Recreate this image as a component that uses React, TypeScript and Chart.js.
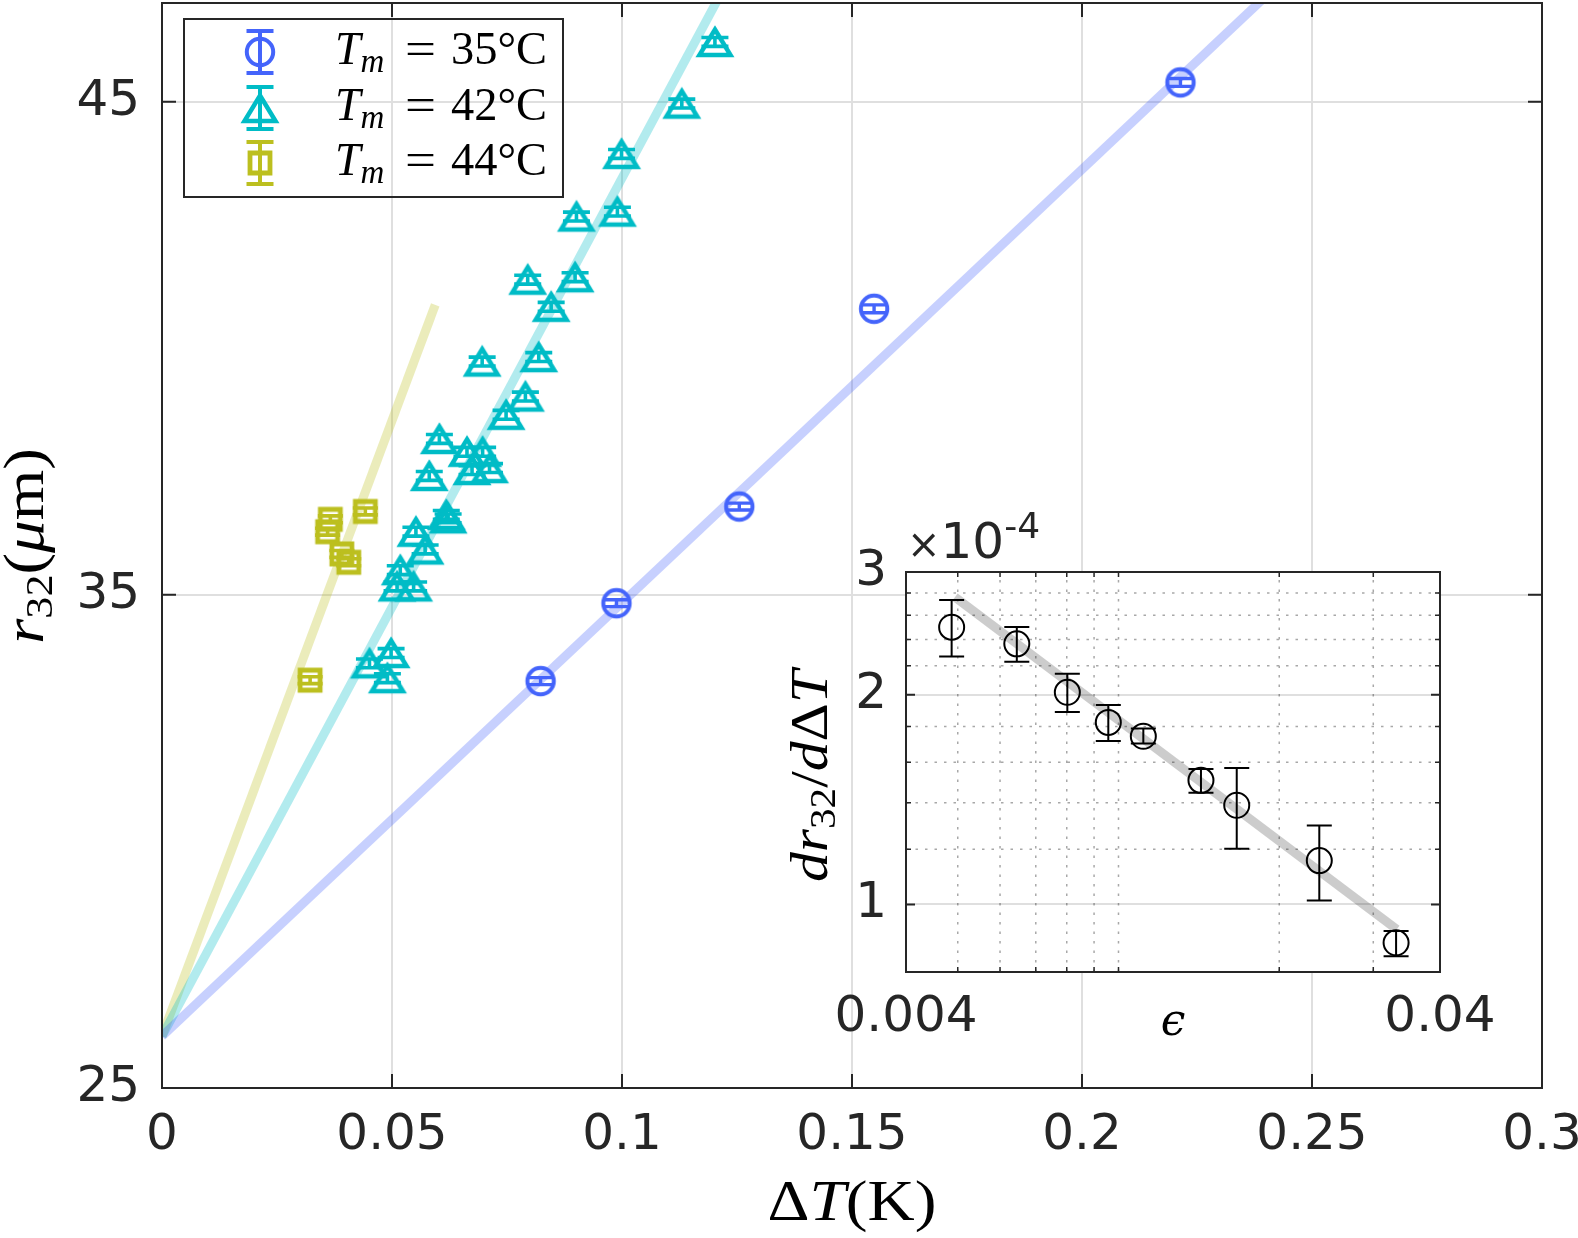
"use client";
import { useEffect, useRef } from "react";
import { Chart, registerables } from "chart.js";

Chart.register(...registerables);

// ---- main panel: r32 vs ΔT ----
const xTickValues = [0, 0.05, 0.1, 0.15, 0.2, 0.25, 0.3];
const xTickLabels = ["0", "0.05", "0.1", "0.15", "0.2", "0.25", "0.3"];
const yTickValues = [25, 35, 45];
const yTickLabels = ["25", "35", "45"];

// T_m = 35°C
const dT35 = [0.0823, 0.0988, 0.1255, 0.1548, 0.2214];
const r35 = [33.25, 34.83, 36.79, 40.8, 45.39];
const err35 = [0.07, 0.07, 0.07, 0.08, 0.08];

// T_m = 42°C
const dT42 = [
  0.1202, 0.113, 0.0999, 0.099, 0.0901, 0.0795, 0.0898, 0.0846, 0.0819, 0.0696,
  0.079, 0.0748, 0.0603, 0.0663, 0.0697, 0.0674, 0.0712, 0.0581, 0.0618, 0.0622,
  0.0552, 0.0572, 0.0518, 0.0511, 0.0547, 0.0451, 0.0498, 0.049,
];
const r42 = [
  46.21, 44.96, 43.94, 42.77, 42.67, 41.39, 41.44, 40.84, 39.82, 39.73,
  39.02, 38.65, 38.16, 37.9, 37.9, 37.53, 37.57, 37.41, 36.62, 36.55,
  36.28, 35.92, 35.5, 35.17, 35.17, 33.61, 33.82, 33.31,
];
const err42 = [
  0.09, 0.09, 0.09, 0.09, 0.09, 0.09, 0.09, 0.09, 0.09, 0.09,
  0.09, 0.09, 0.09, 0.09, 0.09, 0.09, 0.09, 0.09, 0.09, 0.09,
  0.09, 0.09, 0.09, 0.09, 0.09, 0.09, 0.09, 0.09,
];

// T_m = 44°C
const dT44 = [0.0322, 0.036, 0.0366, 0.0391, 0.0406, 0.0442];
const r44 = [33.27, 36.28, 36.53, 35.83, 35.66, 36.69];
const err44 = [0.07, 0.07, 0.07, 0.07, 0.07, 0.07];

// linear fits (end points)
const fit35X = [0, 0.25];
const fit35Y = [26.05, 48.02];
const fit42X = [0, 0.13];
const fit42Y = [26.05, 48.67];
const fit44X = [0, 0.0594];
const fit44Y = [26.05, 40.88];

const legendLabels = ["35°C", "42°C", "44°C"];

// ---- inset: dr32/dΔT vs ε (values in units of 1e-4) ----
const epsTickValues = [0.004, 0.04];
const epsTickLabels = ["0.004", "0.04"];
const epsMinor = [0.005, 0.006, 0.007, 0.008, 0.009, 0.01, 0.02, 0.03];
const slopeTickValues = [1, 2, 3];
const slopeTickLabels = ["1", "2", "3"];
const slopeMinor = [1.2, 1.4, 1.6, 1.8, 2.2, 2.4, 2.6, 2.8];

const epsilon = [0.00487, 0.00645, 0.00802, 0.00957, 0.01113, 0.01427, 0.01665, 0.02377, 0.0331];
const slope = [2.5, 2.366, 2.016, 1.825, 1.743, 1.507, 1.388, 1.156, 0.881];
const slopeLo = [2.27, 2.23, 1.889, 1.717, 1.702, 1.446, 1.202, 1.013, 0.843];
const slopeHi = [2.736, 2.501, 2.144, 1.933, 1.788, 1.565, 1.57, 1.298, 0.916];
const slopeFitX = [0.00494, 0.0332];
const slopeFitY = [2.761, 0.921];

const BLUE = "#4464fb";
const CYAN = "#00bcc6";
const OLIVE = "#bcbf1f";
const AXIS = "#262626";
const GRID = "#dfdfdf";
const TICK_FONT = { family: "DejaVu Sans", size: 50 };
const SERIF = '"Liberation Serif", "DejaVu Serif", serif';

function makeMarker(shape: string, color: string) {
  const c = document.createElement("canvas");
  c.width = 44;
  c.height = 44;
  const g = c.getContext("2d")!;
  g.strokeStyle = color;
  g.lineJoin = "miter";
  g.beginPath();
  if (shape === "circle") {
    g.lineWidth = 4;
    g.arc(22, 22, 13.2, 0, Math.PI * 2);
  } else if (shape === "triangle") {
    g.lineWidth = 4.5;
    g.moveTo(22, 9.5);
    g.lineTo(37.5, 35);
    g.lineTo(6.5, 35);
    g.closePath();
  } else {
    g.lineWidth = 4.8;
    g.rect(12, 12, 20, 20);
  }
  g.stroke();
  return c;
}

type Run = { t: string; font: string; dy?: number };

// draws text made of several font runs; optional stretch to a given width
function drawRuns(
  ctx: CanvasRenderingContext2D,
  runs: Run[],
  x: number,
  y: number,
  align: "left" | "center",
  width?: number,
  rotate = false,
  color = "#000"
) {
  ctx.save();
  ctx.translate(x, y);
  if (rotate) ctx.rotate(-Math.PI / 2);
  let total = 0;
  const ws = runs.map((r) => {
    ctx.font = r.font;
    const w = ctx.measureText(r.t).width;
    total += w;
    return w;
  });
  if (width) ctx.scale(width / total, 1);
  let cx = align === "center" ? -total / 2 : 0;
  ctx.fillStyle = color;
  ctx.textAlign = "left";
  ctx.textBaseline = "alphabetic";
  runs.forEach((r, i) => {
    ctx.font = r.font;
    ctx.fillText(r.t, cx, r.dy || 0);
    cx += ws[i];
  });
  ctx.restore();
}

function drawErrorBars(chart: any, dsIndex: number, lo: number[], hi: number[], color: string, width: number, cap: number) {
  const meta = chart.getDatasetMeta(dsIndex);
  const ys = chart.scales.y;
  const ctx = chart.ctx;
  ctx.save();
  ctx.strokeStyle = color;
  ctx.lineWidth = width;
  meta.data.forEach((pt: any, i: number) => {
    const y1 = ys.getPixelForValue(lo[i]);
    const y2 = ys.getPixelForValue(hi[i]);
    ctx.beginPath();
    ctx.moveTo(pt.x, y1);
    ctx.lineTo(pt.x, y2);
    ctx.moveTo(pt.x - cap, y1);
    ctx.lineTo(pt.x + cap, y1);
    ctx.moveTo(pt.x - cap, y2);
    ctx.lineTo(pt.x + cap, y2);
    ctx.stroke();
  });
  ctx.restore();
}

function drawBox(ctx: CanvasRenderingContext2D, a: any) {
  ctx.save();
  ctx.strokeStyle = AXIS;
  ctx.lineWidth = 2;
  ctx.strokeRect(a.left, a.top, a.right - a.left, a.bottom - a.top);
  ctx.restore();
}

function toPoints(xs: number[], ys: number[]) {
  return xs.map((x, i) => ({ x, y: ys[i] }));
}

export default function App() {
  const mainRef = useRef<HTMLCanvasElement>(null);
  const insetRef = useRef<HTMLCanvasElement>(null);

  useEffect(() => {
    const mainCanvas = mainRef.current;
    const insetCanvas = insetRef.current;
    if (!mainCanvas || !insetCanvas) return;

    const markers = [makeMarker("circle", BLUE), makeMarker("triangle", CYAN), makeMarker("square", OLIVE)];
    const colors = [BLUE, CYAN, OLIVE];

    const mainDecor = {
      id: "mainDecor",
      afterDatasetsDraw(chart: any) {
        drawErrorBars(chart, 0, r35.map((v, i) => v - err35[i]), r35.map((v, i) => v + err35[i]), BLUE, 3.4, 12.5);
        drawErrorBars(chart, 1, r42.map((v, i) => v - err42[i]), r42.map((v, i) => v + err42[i]), CYAN, 3.6, 13.5);
        drawErrorBars(chart, 2, r44.map((v, i) => v - err44[i]), r44.map((v, i) => v + err44[i]), OLIVE, 3.6, 12.5);
      },
      afterDraw(chart: any) {
        const { ctx, chartArea: a, scales } = chart;
        drawBox(ctx, a);

        // inward tick marks
        ctx.save();
        ctx.strokeStyle = AXIS;
        ctx.lineWidth = 2;
        ctx.beginPath();
        xTickValues.forEach((v) => {
          const px = scales.x.getPixelForValue(v);
          if (px <= a.left + 1 || px >= a.right - 1) return;
          ctx.moveTo(px, a.bottom);
          ctx.lineTo(px, a.bottom - 14);
          ctx.moveTo(px, a.top);
          ctx.lineTo(px, a.top + 14);
        });
        yTickValues.forEach((v) => {
          const py = scales.y.getPixelForValue(v);
          if (py >= a.bottom - 1 || py <= a.top + 1) return;
          ctx.moveTo(a.left, py);
          ctx.lineTo(a.left + 14, py);
          ctx.moveTo(a.right, py);
          ctx.lineTo(a.right - 14, py);
        });
        ctx.stroke();
        ctx.restore();

        // legend
        ctx.save();
        ctx.strokeStyle = AXIS;
        ctx.lineWidth = 2;
        ctx.strokeRect(184, 19, 379, 178);
        const rows = [52, 108, 163];
        rows.forEach((cy, i) => {
          const mx = 260;
          ctx.strokeStyle = colors[i];
          ctx.lineWidth = 4;
          ctx.beginPath();
          ctx.moveTo(mx, cy - 21);
          ctx.lineTo(mx, cy + 21);
          ctx.moveTo(mx - 13.5, cy - 21);
          ctx.lineTo(mx + 13.5, cy - 21);
          ctx.moveTo(mx - 13.5, cy + 21);
          ctx.lineTo(mx + 13.5, cy + 21);
          ctx.stroke();
          ctx.drawImage(markers[i], mx - 22, cy - 22);
          const base = cy + 11.5;
          drawRuns(ctx, [
            { t: "T", font: `italic 46px ${SERIF}` },
            { t: "m", font: `italic 33px ${SERIF}`, dy: 8 },
          ], 335, base, "left");
          drawRuns(ctx, [{ t: "=", font: `46px ${SERIF}` }], 405, base, "left", 31);
          drawRuns(ctx, [{ t: legendLabels[i], font: `46px ${SERIF}` }], 451, base, "left", 96);
        });
        ctx.restore();

        // axis titles
        drawRuns(ctx, [
          { t: "Δ", font: `58px ${SERIF}` },
          { t: "T", font: `italic 58px ${SERIF}` },
          { t: "(K)", font: `58px ${SERIF}` },
        ], (a.left + a.right) / 2, 1220, "center", 169);
        drawRuns(ctx, [
          { t: "r", font: `italic 56px ${SERIF}` },
          { t: "32", font: `38px ${SERIF}`, dy: 9 },
          { t: "(", font: `56px ${SERIF}` },
          { t: "μ", font: `italic 56px ${SERIF}` },
          { t: "m", font: `56px ${SERIF}` },
          { t: ")", font: `56px ${SERIF}` },
        ], 43, 546, "center", 196, true);
      },
    };

    const main = new Chart(mainCanvas, {
      type: "scatter",
      data: {
        datasets: [
          { data: toPoints(dT35, r35), pointStyle: markers[0], pointRadius: 14, showLine: false },
          { data: toPoints(dT42, r42), pointStyle: markers[1], pointRadius: 14, showLine: false },
          { data: toPoints(dT44, r44), pointStyle: markers[2], pointRadius: 14, showLine: false },
          { data: toPoints(fit35X, fit35Y), showLine: true, borderColor: "rgba(68,100,251,0.3)", borderWidth: 9, pointRadius: 0, clip: 0 },
          { data: toPoints(fit42X, fit42Y), showLine: true, borderColor: "rgba(0,188,198,0.3)", borderWidth: 9, pointRadius: 0, clip: 0 },
          { data: toPoints(fit44X, fit44Y), showLine: true, borderColor: "rgba(188,191,31,0.3)", borderWidth: 9, pointRadius: 0, clip: 0 },
        ] as any,
      },
      options: {
        responsive: false,
        animation: false,
        events: [],
        layout: { autoPadding: false, padding: { left: 0, top: 3, right: 36, bottom: 0 } },
        plugins: { legend: { display: false }, tooltip: { enabled: false } },
        scales: {
          x: {
            type: "linear",
            min: 0,
            max: 0.3,
            afterBuildTicks: (s: any) => {
              s.ticks = xTickValues.map((v) => ({ value: v }));
            },
            afterFit: (s: any) => {
              s.height = 150;
              s.paddingLeft = 0;
              s.paddingRight = 0;
            },
            ticks: {
              callback: (_v: any, i: number) => xTickLabels[i],
              font: TICK_FONT,
              color: AXIS,
              padding: 18,
              autoSkip: false,
              maxRotation: 0,
            },
            grid: { color: GRID, lineWidth: 2, drawTicks: false },
            border: { display: false },
          },
          y: {
            type: "linear",
            min: 25,
            max: 47,
            afterBuildTicks: (s: any) => {
              s.ticks = yTickValues.map((v) => ({ value: v }));
            },
            afterFit: (s: any) => {
              s.width = 162;
              s.paddingTop = 0;
              s.paddingBottom = 0;
            },
            ticks: {
              callback: (_v: any, i: number) => yTickLabels[i],
              font: TICK_FONT,
              color: AXIS,
              padding: 22,
              autoSkip: false,
            },
            grid: { color: GRID, lineWidth: 2, drawTicks: false },
            border: { display: false },
          },
        },
      } as any,
      plugins: [mainDecor],
    });

    const insetDecor = {
      id: "insetDecor",
      beforeDraw(chart: any) {
        const { ctx, chartArea: a } = chart;
        ctx.save();
        ctx.fillStyle = "#fff";
        ctx.fillRect(a.left, a.top, a.right - a.left, a.bottom - a.top);
        ctx.restore();
      },
      beforeDatasetsDraw(chart: any) {
        const { ctx, chartArea: a, scales } = chart;
        ctx.save();
        ctx.strokeStyle = "rgba(38,38,38,0.4)";
        ctx.lineWidth = 1.5;
        ctx.setLineDash([2.5, 7]);
        ctx.beginPath();
        epsMinor.forEach((v) => {
          const px = scales.x.getPixelForValue(v);
          ctx.moveTo(px, a.bottom);
          ctx.lineTo(px, a.top);
        });
        slopeMinor.forEach((v) => {
          const py = scales.y.getPixelForValue(v);
          ctx.moveTo(a.left, py);
          ctx.lineTo(a.right, py);
        });
        ctx.stroke();
        ctx.restore();
      },
      afterDatasetsDraw(chart: any) {
        drawErrorBars(chart, 0, slopeLo, slopeHi, "#000", 2, 12.5);
      },
      afterDraw(chart: any) {
        const { ctx, chartArea: a, scales } = chart;
        drawBox(ctx, a);
        ctx.save();
        ctx.strokeStyle = AXIS;
        ctx.lineWidth = 1.5;
        ctx.beginPath();
        epsMinor.forEach((v) => {
          const px = scales.x.getPixelForValue(v);
          ctx.moveTo(px, a.bottom);
          ctx.lineTo(px, a.bottom - 5);
          ctx.moveTo(px, a.top);
          ctx.lineTo(px, a.top + 5);
        });
        slopeMinor.forEach((v) => {
          const py = scales.y.getPixelForValue(v);
          ctx.moveTo(a.left, py);
          ctx.lineTo(a.left + 5, py);
          ctx.moveTo(a.right, py);
          ctx.lineTo(a.right - 5, py);
        });
        ctx.stroke();
        ctx.lineWidth = 2;
        ctx.beginPath();
        slopeTickValues.forEach((v) => {
          const py = scales.y.getPixelForValue(v);
          if (py <= a.top + 1) return;
          ctx.moveTo(a.left, py);
          ctx.lineTo(a.left + 9, py);
          ctx.moveTo(a.right, py);
          ctx.lineTo(a.right - 9, py);
        });
        ctx.stroke();
        ctx.restore();

        // exponent label
        drawRuns(ctx, [
          { t: "×", font: "40px DejaVu Sans" },
          { t: "10", font: "50px DejaVu Sans" },
          { t: "-4", font: "36px DejaVu Sans", dy: -20 },
        ], 127, 78, "left", undefined, false, AXIS);

        // axis titles
        drawRuns(ctx, [{ t: "ϵ", font: `italic 44px "DejaVu Serif", serif` }], (a.left + a.right) / 2, 555, "center");
        drawRuns(ctx, [
          { t: "dr", font: `italic 52px ${SERIF}` },
          { t: "32", font: `36px ${SERIF}`, dy: 8 },
          { t: "/", font: `52px ${SERIF}` },
          { t: "d", font: `italic 52px ${SERIF}` },
          { t: "Δ", font: `52px ${SERIF}` },
          { t: "T", font: `italic 52px ${SERIF}` },
        ], 47, 296, "center", 212, true);
      },
    };

    const inset = new Chart(insetCanvas, {
      type: "scatter",
      data: {
        datasets: [
          {
            data: toPoints(epsilon, slope),
            pointStyle: "circle",
            pointRadius: 12.5,
            pointBorderWidth: 2,
            pointBorderColor: "#000",
            pointBackgroundColor: "rgba(0,0,0,0)",
            showLine: false,
          },
          {
            data: toPoints(slopeFitX, slopeFitY),
            showLine: true,
            borderColor: "rgba(0,0,0,0.2)",
            borderWidth: 9,
            pointRadius: 0,
            clip: 0,
          },
        ] as any,
      },
      options: {
        responsive: false,
        animation: false,
        events: [],
        layout: { autoPadding: false, padding: { left: 0, top: 92, right: 60, bottom: 0 } },
        plugins: { legend: { display: false }, tooltip: { enabled: false } },
        scales: {
          x: {
            type: "logarithmic",
            min: 0.004,
            max: 0.04,
            afterBuildTicks: (s: any) => {
              s.ticks = epsTickValues.map((v) => ({ value: v }));
            },
            afterFit: (s: any) => {
              s.height = 88;
              s.paddingLeft = 0;
              s.paddingRight = 0;
            },
            ticks: {
              callback: (_v: any, i: number) => epsTickLabels[i],
              font: TICK_FONT,
              color: AXIS,
              padding: 16,
              autoSkip: false,
              maxRotation: 0,
            },
            grid: { color: GRID, lineWidth: 2, drawTicks: false },
            border: { display: false },
          },
          y: {
            type: "logarithmic",
            min: 0.8,
            max: 3,
            afterBuildTicks: (s: any) => {
              s.ticks = slopeTickValues.map((v) => ({ value: v }));
            },
            afterFit: (s: any) => {
              s.width = 126;
              s.paddingTop = 0;
              s.paddingBottom = 0;
            },
            ticks: {
              callback: (_v: any, i: number) => slopeTickLabels[i],
              font: TICK_FONT,
              color: AXIS,
              padding: 19,
              autoSkip: false,
            },
            grid: { color: GRID, lineWidth: 2, drawTicks: false },
            border: { display: false },
          },
        },
      } as any,
      plugins: [insetDecor],
    });

    return () => {
      main.destroy();
      inset.destroy();
    };
  }, []);

  return (
    <div style={{ position: "absolute", left: 0, top: 0, width: 1578, height: 1238, background: "#fff" }}>
      <canvas ref={mainRef} width={1578} height={1238} style={{ position: "absolute", left: 0, top: 0 }} />
      <canvas ref={insetRef} width={720} height={580} style={{ position: "absolute", left: 780, top: 480 }} />
    </div>
  );
}
